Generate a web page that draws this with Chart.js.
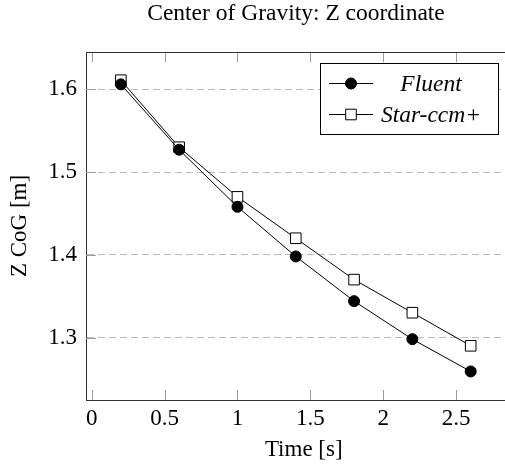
<!DOCTYPE html>
<html>
<head>
<meta charset="utf-8">
<script src="https://cdn.jsdelivr.net/npm/chart.js@4"></script>
<style>
  html, body { margin: 0; padding: 0; background: #fff; overflow: hidden; }
  #frame { width: 505px; height: 465px; overflow: hidden; position: relative; }
  canvas { display: block; }
</style>
</head>
<body>
<div id="frame"><canvas id="cog" width="530" height="465"></canvas></div>
<script>
const timeSteps = [0.2, 0.6, 1.0, 1.4, 1.8, 2.2, 2.6];
const fluentZ = [1.606, 1.527, 1.458, 1.398, 1.344, 1.298, 1.259];
const starZ = [1.611, 1.530, 1.470, 1.420, 1.370, 1.330, 1.290];
const xTicks = [0, 0.5, 1, 1.5, 2, 2.5];
const yTicks = [1.3, 1.4, 1.5, 1.6];
const chartTitle = 'Center of Gravity: Z coordinate';

const FONT = "'Liberation Serif', 'Times New Roman', serif";

const toPoints = (xs, ys) => xs.map((x, i) => ({ x: x, y: ys[i] }));

// title centred over the visible part of the axis box
const boxTitle = {
    id: 'boxTitle',
    afterDraw(chart) {
        const { ctx } = chart;
        ctx.save();
        ctx.fillStyle = '#000';
        ctx.font = '23.5px ' + FONT;
        ctx.textAlign = 'center';
        ctx.textBaseline = 'middle';
        ctx.fillText(chartTitle, 296, 14.1);
        ctx.restore();
    }
};

// inward tick marks plus the top edge of the axis box
const boxTicks = {
    id: 'boxTicks',
    beforeDatasetsDraw(chart) {
        const { ctx, chartArea: a, scales } = chart;
        ctx.save();
        ctx.lineWidth = 1;
        ctx.strokeStyle = '#999';
        ctx.beginPath();
        scales.x.ticks.forEach(t => {
            const px = Math.round(scales.x.getPixelForValue(t.value)) + 0.5;
            ctx.moveTo(px, a.bottom);
            ctx.lineTo(px, a.bottom - 10);
            ctx.moveTo(px, a.top);
            ctx.lineTo(px, a.top + 10);
        });
        scales.y.ticks.forEach(t => {
            const py = Math.round(scales.y.getPixelForValue(t.value)) + 0.5;
            ctx.moveTo(a.left, py);
            ctx.lineTo(a.left + 10, py);
        });
        ctx.stroke();
        ctx.strokeStyle = '#333';
        ctx.beginPath();
        ctx.moveTo(a.left, a.top + 0.5);
        ctx.lineTo(a.right, a.top + 0.5);
        ctx.stroke();
        ctx.restore();
    }
};

// boxed legend with line samples, text centred in its column
const boxLegend = {
    id: 'boxLegend',
    afterDraw(chart) {
        const { ctx } = chart;
        const x0 = 320.5, y0 = 63.5, w = 178, h = 71;
        ctx.save();
        ctx.fillStyle = '#fff';
        ctx.fillRect(x0, y0, w, h);
        ctx.strokeStyle = '#000';
        ctx.lineWidth = 1;
        ctx.strokeRect(x0, y0, w, h);
        ctx.font = 'italic 23.5px ' + FONT;
        ctx.textAlign = 'center';
        ctx.textBaseline = 'middle';
        chart.data.datasets.forEach((ds, i) => {
            const y = y0 + 20 + i * 31;
            ctx.strokeStyle = ds.borderColor;
            ctx.beginPath();
            ctx.moveTo(329, y);
            ctx.lineTo(373, y);
            ctx.stroke();
            ctx.fillStyle = ds.pointBackgroundColor;
            ctx.strokeStyle = ds.pointBorderColor;
            Chart.helpers.drawPoint(ctx, {
                pointStyle: ds.pointStyle,
                radius: ds.pointRadius,
                borderWidth: 1
            }, 351, y);
            ctx.fillStyle = '#000';
            ctx.fillText(ds.label, 431, y + 1);
        });
        ctx.restore();
    }
};

new Chart(document.getElementById('cog'), {
    type: 'line',
    data: {
        datasets: [{
            label: 'Fluent',
            data: toPoints(timeSteps, fluentZ),
            borderColor: '#000',
            borderWidth: 1,
            pointStyle: 'circle',
            pointRadius: 5.5,
            pointBackgroundColor: '#000',
            pointBorderColor: '#000',
            pointBorderWidth: 1,
            tension: 0
        }, {
            label: 'Star-ccm+',
            data: toPoints(timeSteps, starZ),
            borderColor: '#000',
            borderWidth: 1,
            pointStyle: 'rect',
            pointRadius: 7.5,
            pointBackgroundColor: '#fff',
            pointBorderColor: '#000',
            pointBorderWidth: 1,
            tension: 0
        }]
    },
    options: {
        responsive: false,
        animation: false,
        layout: { padding: { left: 0, right: 0, top: 52, bottom: 0 } },
        plugins: {
            legend: { display: false },
            tooltip: { enabled: false },
            title: { display: false }
        },
        scales: {
            x: {
                type: 'linear',
                min: -0.039,
                max: 2.9486,
                afterBuildTicks: s => { s.ticks = xTicks.map(v => ({ value: v })); },
                afterFit: s => { s.height = 65; },
                grid: { display: false, drawTicks: false },
                border: { display: true, color: '#333', width: 1 },
                ticks: {
                    color: '#000',
                    padding: 5,
                    maxRotation: 0,
                    font: { family: FONT, size: 23 },
                    callback: v => String(v)
                },
                title: {
                    display: true,
                    text: 'Time [s]',
                    color: '#000',
                    font: { family: FONT, size: 23, lineHeight: 1.2 },
                    padding: { top: 1.7, bottom: 1.7 }
                }
            },
            y: {
                type: 'linear',
                min: 1.2245,
                max: 1.6451,
                afterBuildTicks: s => { s.ticks = yTicks.map(v => ({ value: v })); },
                afterFit: s => { s.width = 86; },
                grid: {
                    color: '#bbb',
                    lineWidth: 1,
                    drawTicks: false
                },
                border: { display: true, color: '#333', width: 1, dash: [7, 4] },
                ticks: {
                    color: '#000',
                    padding: 9,
                    font: { family: FONT, size: 23 },
                    callback: v => String(v)
                },
                title: {
                    display: true,
                    text: 'Z CoG [m]',
                    color: '#000',
                    font: { family: FONT, size: 23, lineHeight: 1.2 },
                    padding: { top: 6.2, bottom: 6.2 }
                }
            }
        }
    },
    plugins: [boxTicks, boxLegend, boxTitle]
});
</script>
</body>
</html>
